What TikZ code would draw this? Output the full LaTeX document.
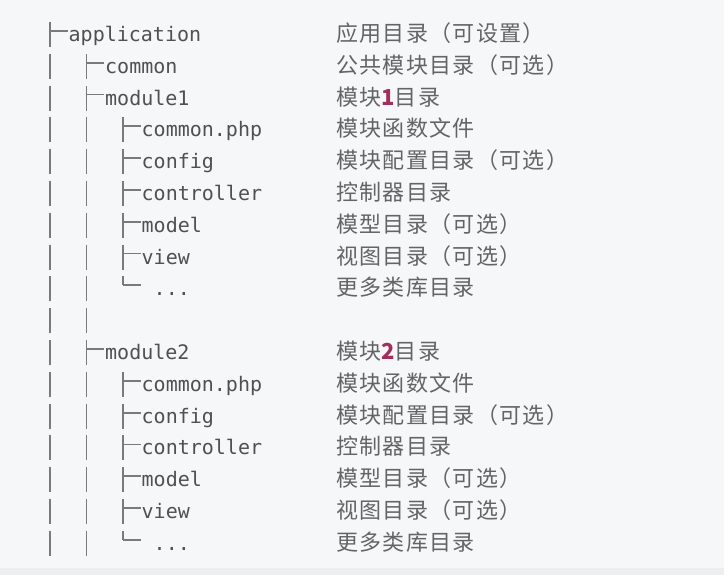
\documentclass[tikz,border=0pt]{standalone}
\usepackage{fontspec}
\setmonofont{DejaVu Sans Mono}
\newfontfamily\cjk[LetterSpace=6]{Noto Sans CJK SC}

\definecolor{pagebg}{HTML}{F6F7F8}
\definecolor{pagebot}{HTML}{EDEEEF}
\definecolor{treegray}{HTML}{505050}
\definecolor{descgray}{HTML}{646464}
\definecolor{linegray}{HTML}{7A7A7A}
\definecolor{numred}{HTML}{A0305A}

\tikzset{
  entry/.style={anchor=base west, inner sep=0pt, text=treegray,
    font=\ttfamily\fontsize{20}{24}\selectfont},
  desc/.style={anchor=base west, inner sep=0pt, text=descgray,
    font=\cjk\fontsize{22}{26}\selectfont},
  branch/.style={draw=linegray, line width=1.8pt},
}

\begin{document}
\begin{tikzpicture}[x=1pt,y=-1pt]
    \fill[pagebg] (0,0) rectangle (724,575);
    \fill[pagebot] (0,568) rectangle (724,575);

    % row / level / name / text / bar end / description
    \foreach \r/\lv/\id/\txt/\bend/\dsc in {
        1/0/app/application/16/应用目录（可设置）,
        2/1/common/common/16/公共模块目录（可选）,
        3/1/mod1/module1/16/{模块\textcolor{numred}{\bfseries 1}目录},
        4/2/mAphp/common.php/16/模块函数文件,
        5/2/mAconf/config/16/模块配置目录（可选）,
        6/2/mActrl/controller/16/控制器目录,
        7/2/mAmodel/model/16/模型目录（可选）,
        8/2/mAview/view/16/视图目录（可选）,
        9/2/mAmore/{\ ...}/0/更多类库目录,
        11/1/mod2/module2/16/{模块\textcolor{numred}{\bfseries 2}目录},
        12/2/mBphp/common.php/16/模块函数文件,
        13/2/mBconf/config/16/模块配置目录（可选）,
        14/2/mBctrl/controller/16/控制器目录,
        15/2/mBmodel/model/16/模型目录（可选）,
        16/2/mBview/view/16/视图目录（可选）,
        17/2/mBmore/{\ ...}/0/更多类库目录}{
        \pgfmathsetmacro\c{31+31.8*(\r-1)}
        \pgfmathsetmacro\xb{50+36.5*\lv}
        \node[entry] (\id) at (\xb+18.5,\c+10.5) {\txt};
        \node[desc] (d\id) at (336,\c+10.5) {\dsc};
        \draw[branch] (\xb,\c-9) -- (\xb,\c+\bend)
            (\xb,\c) -- ([xshift=-1pt,yshift=10.5pt]\id.base west);
    }

    % trunk bars
    \foreach \r in {2,...,17}{
        \pgfmathsetmacro\c{31+31.8*(\r-1)}
        \draw[branch] (50,\c-9) -- (50,\c+16);
    }
    \foreach \r in {4,5,6,7,8,9,10,12,13,14,15,16,17}{
        \pgfmathsetmacro\c{31+31.8*(\r-1)}
        \draw[branch] (86.5,\c-9) -- (86.5,\c+16);
    }
\end{tikzpicture}
\end{document}
